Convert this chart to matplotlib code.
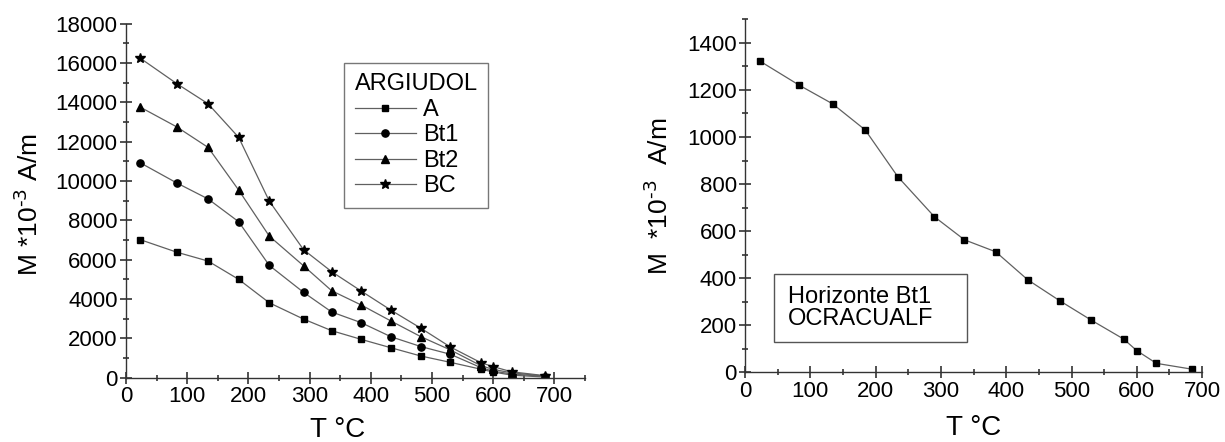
import matplotlib
matplotlib.use("Agg")
import matplotlib.pyplot as plt
from matplotlib.ticker import MultipleLocator
from matplotlib.patches import Rectangle

plt.rcParams["font.family"] = ["Liberation Sans", "DejaVu Sans"]
plt.rcParams["mathtext.default"] = "regular"

# temperature steps (deg C), shared by both panels
temps = [23, 83, 134, 184, 234, 290, 336, 384, 433, 482, 530, 580, 600, 630, 685]

# ARGIUDOL horizons, M * 10^-3 A/m
m_a = [7020, 6380, 5930, 5000, 3810, 2980, 2390, 1950, 1520, 1100, 780, 430, 290, 130, 30]
m_bt1 = [10930, 9900, 9090, 7930, 5710, 4340, 3340, 2800, 2080, 1580, 1190, 510, 330, 190, 60]
m_bt2 = [13760, 12750, 11710, 9540, 7200, 5690, 4420, 3700, 2880, 2080, 1410, 610, 420, 250, 80]
m_bc = [16250, 14950, 13930, 12220, 8980, 6510, 5390, 4410, 3430, 2510, 1560, 760, 560, 300, 100]
series_labels = ["A", "Bt1", "Bt2", "BC"]
series_markers = ["s", "o", "^", "*"]
marker_sizes = [5, 5.2, 5.8, 7.5]

# OCRACUALF horizon Bt1
m_ocra = [1322, 1220, 1141, 1030, 831, 661, 563, 512, 393, 304, 222, 141, 92, 38, 13]

LINE_COLOR = "#606060"
SPINE_COLOR = "#333333"


def style_axes(ax):
    for side in ("top", "right"):
        ax.spines[side].set_visible(False)
    for side in ("left", "bottom"):
        ax.spines[side].set_color(SPINE_COLOR)
        ax.spines[side].set_linewidth(1.0)
    ax.tick_params(which="major", direction="inout", length=8, width=1.2,
                   color=SPINE_COLOR, labelsize=16, pad=2)
    ax.tick_params(which="minor", direction="inout", length=5, width=1.2,
                   color=SPINE_COLOR)


fig = plt.figure(figsize=(12.25, 4.42), dpi=100)

# left panel: ARGIUDOL
ax1 = fig.add_axes([0.1029, 0.1455, 0.3747, 0.8009])
for vals, lab, mk, ms in zip([m_a, m_bt1, m_bt2, m_bc], series_labels,
                             series_markers, marker_sizes):
    ax1.plot(temps, vals, color=LINE_COLOR, lw=0.9, marker=mk, ms=ms,
             mfc="black", mec="black", label=lab)
ax1.set_xlim(0, 750)
ax1.set_ylim(0, 18000)
ax1.xaxis.set_minor_locator(MultipleLocator(50))
ax1.yaxis.set_major_locator(MultipleLocator(2000))
ax1.yaxis.set_minor_locator(MultipleLocator(1000))
ax1.set_xticks(range(0, 800, 100))
style_axes(ax1)
ax1.set_xlabel("T °C", fontsize=20)
ax1.xaxis.set_label_coords(0.46, -0.11)
ax1.set_ylabel("M *10$^{\\text{-3}}$ A/m", fontsize=19)
ax1.yaxis.set_label_coords(-0.181, 0.49)
leg = ax1.legend(title="ARGIUDOL", loc="upper left", bbox_to_anchor=(0.475, 0.89),
                 fontsize=17, title_fontsize=17, frameon=True, fancybox=False,
                 handlelength=2.6, handletextpad=0.3, labelspacing=0.15,
                 borderpad=0.45, borderaxespad=0)
leg._legend_box.align = "left"
leg.get_frame().set_edgecolor("#555555")
leg.get_frame().set_linewidth(1.0)

# right panel: OCRACUALF, horizon Bt1
ax2 = fig.add_axes([0.6082, 0.1577, 0.3731, 0.7986])
ax2.plot(temps, m_ocra, color=LINE_COLOR, lw=0.9, marker="s", ms=5,
         mfc="black", mec="black")
ax2.set_xlim(0, 700)
ax2.set_ylim(0, 1500)
ax2.xaxis.set_major_locator(MultipleLocator(100))
ax2.xaxis.set_minor_locator(MultipleLocator(50))
ax2.yaxis.set_major_locator(MultipleLocator(200))
ax2.yaxis.set_minor_locator(MultipleLocator(100))
style_axes(ax2)
ax2.set_xlabel("T °C", fontsize=20)
ax2.xaxis.set_label_coords(0.5, -0.12)
ax2.set_ylabel("M  *10$^{\\text{-3}}$  A/m", fontsize=19)
ax2.yaxis.set_label_coords(-0.158, 0.5)

ax2.add_patch(Rectangle((0.063, 0.085), 0.422, 0.1935, transform=ax2.transAxes,
                        fill=False, edgecolor="#555555", lw=1.0, clip_on=False))
ax2.text(0.094, 0.182, "Horizonte Bt1\nOCRACUALF", transform=ax2.transAxes,
         fontsize=17, ha="left", va="center", linespacing=1.05)

fig.savefig("out.png", dpi=100)
